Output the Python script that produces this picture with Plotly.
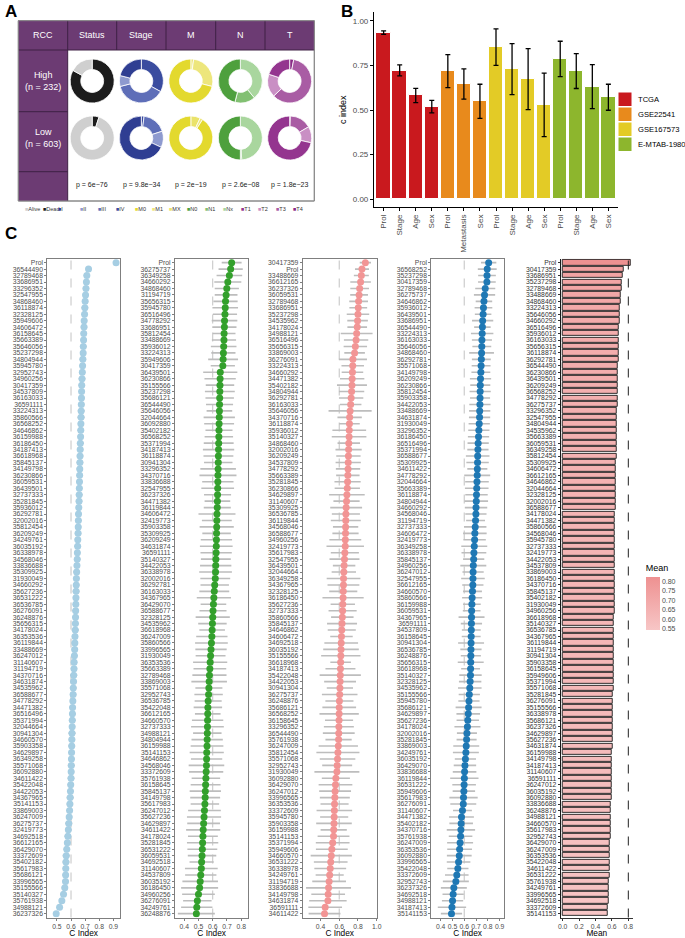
import plotly.graph_objects as go

W, H = 685, 938
def fx(p): return p / W
def fy(p): return 1 - p / H

FONT = "Liberation Sans"
GREYTXT = "#4D4D4D"

# ---------------- Panel A data ----------------
a_vars = ["Status", "Stage", "M", "N", "T"]
a_levels = [["Dead", "Alive"], ["IV", "III", "II", "I"], ["MX", "M1", "M0"],
            ["Nx", "N1", "N0"], ["T4", "T3", "T2", "T1"]]
a_high = [[0.83, 0.17], [0.33, 0.38, 0.08, 0.21], [0.02, 0.27, 0.71],
          [0.39, 0.15, 0.46], [0.03, 0.60, 0.17, 0.20]]
a_low = [[0.05, 0.95], [0.02, 0.18, 0.12, 0.68], [0.07, 0.02, 0.91],
         [0.49, 0.01, 0.50], [0.005, 0.16, 0.12, 0.715]]
a_pvals = ["p = 6e−76", "p = 9.8e−34", "p = 2e−19", "p = 2.6e−08", "p = 1.8e−23"]
a_groups = ["High<br>(n = 232)", "Low<br>(n = 603)"]
a_legend = ["Alive", "Dead", "I", "II", "III", "IV", "M0", "M1", "MX",
            "N0", "N1", "Nx", "T1", "T2", "T3", "T4"]
a_colors = {"Alive": "#CFCFCF", "Dead": "#1C1C1C",
            "I": "#2F3E92", "II": "#8E9ACF", "III": "#5E6EB8", "IV": "#3A4C9F",
            "M0": "#E3D92E", "M1": "#EDE67C", "MX": "#EAE36A",
            "N0": "#4EA03D", "N1": "#82C072", "Nx": "#A9D69E",
            "T1": "#94358F", "T2": "#C98FC4", "T3": "#A95CA4", "T4": "#8A2B86"}

# ---------------- Panel B data ----------------
b_cohorts = ["TCGA", "GSE22541", "GSE167573", "E-MTAB-1980"]
b_colors = ["#C9191E", "#E88A1C", "#E3CB26", "#8DB62D"]
b_vars = [["Prol", "Stage", "Age", "Sex"], ["Prol", "Metastasis", "Sex"],
          ["Prol", "Stage", "Age", "Sex"], ["Prol", "Stage", "Age", "Sex"]]
b_cidx = [[0.931, 0.721, 0.583, 0.520], [0.720, 0.645, 0.551],
          [0.854, 0.731, 0.675, 0.529], [0.787, 0.720, 0.630, 0.572]]
b_low = [[0.925, 0.692, 0.542, 0.484], [0.626, 0.561, 0.454],
         [0.751, 0.587, 0.503, 0.351], [0.688, 0.621, 0.508, 0.499]]
b_high = [[0.944, 0.753, 0.622, 0.555], [0.811, 0.731, 0.645],
          [0.955, 0.873, 0.845, 0.707], [0.886, 0.817, 0.755, 0.645]]

# ---------------- Panel C data ----------------
c1_labels = ["Prol","36544490","32789468","33686951","33296352","32547955","34868460","36118874","32328125","35949606",
"34606472","36158645","35663389","35646056","35237298","34804944","35945780","32952743","34960256","30417359",
"34537809","36163033","36591111","33224313","35860566","36568252","34646862","36159988","36186450","34187413",
"36618968","35845137","34149798","36230866","36059531","36439501","32737333","35281845","35936012","36292781",
"32002016","35812454","36209249","34249761","36035192","36338978","34568046","33836688","35309925","31930049",
"34660292","35627236","36531222","36536785","36276091","36248876","35656315","34178024","36353536","36119844",
"33488669","36247012","31140607","31194719","34370716","34631874","34535962","36588677","34778292","34471382",
"36516496","35371994","32044664","30941304","34660570","35903358","34629897","36349258","35571068","36092880",
"34611422","35422048","34422053","34367965","35141153","33869003","36247009","36275737","32419773","34692518",
"36612165","36429070","33372609","35402182","35617983","35686121","33996565","35155566","35140327","35761938",
"34988121","36237326"]
c1_vals = [0.919, 0.724, 0.712, 0.709, 0.706, 0.703, 0.700, 0.698, 0.696, 0.693,
0.692, 0.690, 0.689, 0.687, 0.686, 0.684, 0.682, 0.680, 0.678, 0.676,
0.675, 0.674, 0.673, 0.672, 0.671, 0.670, 0.669, 0.668, 0.666, 0.665,
0.664, 0.663, 0.662, 0.661, 0.660, 0.659, 0.658, 0.657, 0.655, 0.653,
0.652, 0.651, 0.650, 0.648, 0.647, 0.645, 0.644, 0.642, 0.640, 0.638,
0.637, 0.636, 0.635, 0.634, 0.633, 0.632, 0.631, 0.630, 0.628, 0.627,
0.626, 0.624, 0.622, 0.621, 0.619, 0.618, 0.616, 0.615, 0.613, 0.611,
0.610, 0.609, 0.608, 0.607, 0.606, 0.605, 0.604, 0.603, 0.602, 0.601,
0.600, 0.598, 0.596, 0.594, 0.592, 0.590, 0.587, 0.584, 0.581, 0.578,
0.574, 0.570, 0.566, 0.564, 0.563, 0.562, 0.561, 0.556, 0.547, 0.535,
0.519, 0.495]
c1_err = [0.004, 0.020, 0.022, 0.021, 0.023, 0.020, 0.022, 0.024, 0.021, 0.022,
0.023, 0.021, 0.022, 0.024, 0.021, 0.023, 0.022, 0.021, 0.024, 0.022,
0.021, 0.023, 0.022, 0.024, 0.025, 0.022, 0.023, 0.021, 0.024, 0.022,
0.023, 0.024, 0.022, 0.021, 0.023, 0.022, 0.024, 0.023, 0.021, 0.022,
0.024, 0.022, 0.023, 0.021, 0.024, 0.022, 0.023, 0.021, 0.024, 0.022,
0.023, 0.024, 0.022, 0.021, 0.023, 0.022, 0.024, 0.025, 0.022, 0.023,
0.021, 0.024, 0.022, 0.023, 0.025, 0.022, 0.024, 0.023, 0.021, 0.022,
0.023, 0.024, 0.022, 0.025, 0.023, 0.024, 0.022, 0.023, 0.025, 0.022,
0.024, 0.023, 0.022, 0.025, 0.023, 0.024, 0.022, 0.025, 0.023, 0.024,
0.022, 0.023, 0.025, 0.024, 0.022, 0.023, 0.024, 0.022, 0.023, 0.020,
0.018, 0.016]

c2_labels = ["Prol","36275737","36349258","34660292","34868460","31194719","35656315","35945780","36516496","34778292",
"33686951","35812454","33488669","35936012","33224313","35949606","30417359","36439501","36230866","35155566",
"35237298","35686121","36544490","35646056","32044664","36092880","35402182","36568252","35371994","34187413",
"36118874","30941304","33296352","34370716","33836688","32547955","36237326","34471382","36119844","34606472",
"32419773","35903358","35309925","36209249","34631874","36591111","35140327","34422053","36338978","32002016",
"36292781","36163033","34367965","36429070","36588677","32328125","34535962","36618968","36247009","35860566",
"33996565","31930049","36353536","35663389","32789468","33869003","35571068","32952743","36536785","35422048",
"36612165","34660570","32737333","34988121","34804944","36159988","35141153","34646862","34568046","33372609",
"35761938","36158645","35845137","34149798","35617983","36247012","35627236","34629897","34611422","34178024",
"35281845","36531222","36059531","34692518","31140607","34537809","36035192","36186450","34960256","36276091",
"34249761","36248876"]
c2_vals = [0.733, 0.726, 0.717, 0.706, 0.699, 0.694, 0.690, 0.688, 0.686, 0.683,
0.682, 0.680, 0.679, 0.677, 0.675, 0.673, 0.671, 0.653, 0.652, 0.651,
0.650, 0.649, 0.648, 0.647, 0.646, 0.645, 0.644, 0.643, 0.642, 0.641,
0.640, 0.639, 0.638, 0.637, 0.636, 0.635, 0.634, 0.633, 0.632, 0.630,
0.629, 0.628, 0.627, 0.626, 0.625, 0.624, 0.622, 0.621, 0.620, 0.618,
0.614, 0.611, 0.608, 0.605, 0.602, 0.600, 0.598, 0.596, 0.594, 0.591,
0.588, 0.585, 0.582, 0.580, 0.577, 0.575, 0.573, 0.571, 0.568, 0.566,
0.565, 0.564, 0.563, 0.562, 0.561, 0.560, 0.558, 0.557, 0.556, 0.554,
0.552, 0.550, 0.548, 0.547, 0.545, 0.542, 0.539, 0.536, 0.533, 0.531,
0.529, 0.527, 0.525, 0.522, 0.520, 0.516, 0.512, 0.508, 0.500, 0.492,
0.488, 0.485]
c2_err = [0.070, 0.085, 0.090, 0.095, 0.085, 0.080, 0.085, 0.090, 0.085, 0.090,
0.085, 0.080, 0.085, 0.090, 0.085, 0.105, 0.085, 0.120, 0.110, 0.100,
0.105, 0.100, 0.095, 0.090, 0.110, 0.105, 0.095, 0.100, 0.105, 0.110,
0.105, 0.100, 0.125, 0.130, 0.110, 0.115, 0.095, 0.090, 0.095, 0.130,
0.105, 0.120, 0.100, 0.110, 0.115, 0.110, 0.105, 0.110, 0.115, 0.105,
0.100, 0.105, 0.120, 0.090, 0.095, 0.120, 0.100, 0.090, 0.110, 0.115,
0.110, 0.105, 0.120, 0.115, 0.120, 0.125, 0.095, 0.100, 0.095, 0.100,
0.090, 0.110, 0.115, 0.100, 0.110, 0.115, 0.120, 0.110, 0.125, 0.120,
0.100, 0.105, 0.110, 0.105, 0.100, 0.115, 0.120, 0.115, 0.120, 0.105,
0.110, 0.105, 0.100, 0.085, 0.115, 0.110, 0.125, 0.130, 0.115, 0.100,
0.110, 0.130]

c3_labels = ["30417359","Prol","33488669","36612165","36237326","36059531","32789468","33686951","35237298","34535962",
"34178024","34988121","36516496","35656315","33869003","36276091","33224313","34660292","34471382","35402182",
"34804944","36292781","36163033","35646056","34370716","36118874","35936012","35140327","34868460","32002016",
"36209249","34537809","34778292","35663389","35281845","36230866","34629897","31140607","35309925","36536785",
"36119844","34568046","36588677","34960256","32419773","35617983","32547955","36439501","32044664","36349258",
"34367965","32328125","36186450","35627236","32737333","35860566","35845137","34646862","34606472","34692518",
"36035192","35155566","36618968","34187413","35422048","34422053","30941304","36275737","36248876","35686121",
"36568252","36158645","33296352","36544490","35761938","36247009","35812454","35571068","32952743","31930049",
"36092880","36429070","36247012","33996565","36353536","33372609","35945780","35903358","36159988","35141153",
"35371994","35949606","34660570","36531222","36338978","34249761","31194719","33836688","34149798","34631874",
"36591111","34611422"]
c3_vals = [0.879, 0.843, 0.836, 0.828, 0.818, 0.812, 0.807, 0.803, 0.800, 0.796,
0.792, 0.786, 0.780, 0.772, 0.764, 0.746, 0.744, 0.741, 0.738, 0.736,
0.732, 0.727, 0.722, 0.716, 0.711, 0.709, 0.707, 0.705, 0.702, 0.700,
0.698, 0.696, 0.694, 0.692, 0.689, 0.686, 0.682, 0.678, 0.674, 0.671,
0.670, 0.668, 0.667, 0.665, 0.664, 0.660, 0.656, 0.652, 0.649, 0.646,
0.645, 0.643, 0.641, 0.638, 0.636, 0.633, 0.630, 0.627, 0.624, 0.621,
0.619, 0.617, 0.615, 0.613, 0.611, 0.609, 0.607, 0.605, 0.602, 0.600,
0.599, 0.598, 0.596, 0.595, 0.593, 0.590, 0.586, 0.582, 0.578, 0.575,
0.564, 0.560, 0.556, 0.553, 0.550, 0.548, 0.546, 0.544, 0.541, 0.539,
0.530, 0.521, 0.515, 0.509, 0.504, 0.498, 0.492, 0.486, 0.482, 0.479,
0.450, 0.443]
c3_err = [0.060, 0.075, 0.080, 0.110, 0.100, 0.095, 0.100, 0.095, 0.120, 0.110,
0.105, 0.170, 0.130, 0.125, 0.110, 0.150, 0.120, 0.115, 0.130, 0.160,
0.135, 0.130, 0.115, 0.230, 0.130, 0.110, 0.180, 0.185, 0.120, 0.140,
0.130, 0.135, 0.130, 0.125, 0.140, 0.135, 0.190, 0.140, 0.170, 0.150,
0.160, 0.135, 0.140, 0.170, 0.200, 0.150, 0.160, 0.120, 0.130, 0.180,
0.170, 0.150, 0.220, 0.130, 0.150, 0.120, 0.160, 0.150, 0.120, 0.180,
0.190, 0.210, 0.110, 0.160, 0.220, 0.170, 0.140, 0.190, 0.150, 0.180,
0.210, 0.150, 0.160, 0.170, 0.140, 0.210, 0.230, 0.190, 0.160, 0.240,
0.150, 0.180, 0.170, 0.160, 0.150, 0.190, 0.150, 0.190, 0.140, 0.170,
0.180, 0.170, 0.220, 0.180, 0.170, 0.150, 0.180, 0.240, 0.180, 0.200,
0.180, 0.170]

c4_labels = ["Prol","36568252","35237298","30417359","32789468","36275737","34646862","35936012","36439501","33686951",
"36544490","33224313","36163033","35646056","34868460","36292781","35571068","34149798","36209249","36230866",
"35812454","35903358","34422053","33488669","34631874","31930049","33296352","36186450","36516496","35371994",
"36588677","35309925","34611422","34778292","32044664","35663389","36118874","34804944","34660292","34568046",
"31194719","32737333","34606472","32419773","36349258","36338978","35845137","34960256","36247012","32547955",
"36612165","34660570","35860566","36159988","36059531","34367965","36591111","34537809","36158645","30941304",
"36536785","36248876","35656315","36618968","35140327","32328125","34535962","35155566","35945780","35686121",
"34629897","35627236","34178024","32002016","35281845","33869003","34249761","36035192","36429070","33836688",
"36119844","36531222","35949606","35617983","36276091","31140607","34471382","35402182","34370716","35761938",
"36247009","36353536","36092880","33996565","35422048","33372609","32952743","36237326","34692518","34988121",
"34187413","35141153"]
c4_vals = [0.807, 0.795, 0.793, 0.792, 0.778, 0.772, 0.767, 0.763, 0.760, 0.756,
0.754, 0.752, 0.750, 0.749, 0.747, 0.745, 0.743, 0.741, 0.738, 0.736,
0.735, 0.734, 0.733, 0.731, 0.730, 0.727, 0.724, 0.721, 0.718, 0.716,
0.714, 0.713, 0.711, 0.710, 0.708, 0.706, 0.704, 0.702, 0.700, 0.699,
0.696, 0.693, 0.690, 0.688, 0.685, 0.682, 0.680, 0.677, 0.675, 0.674,
0.673, 0.670, 0.667, 0.665, 0.663, 0.662, 0.661, 0.660, 0.659, 0.658,
0.657, 0.656, 0.655, 0.654, 0.653, 0.650, 0.647, 0.643, 0.640, 0.637,
0.634, 0.630, 0.627, 0.623, 0.620, 0.617, 0.614, 0.610, 0.606, 0.603,
0.601, 0.599, 0.597, 0.594, 0.592, 0.585, 0.577, 0.574, 0.572, 0.569,
0.565, 0.561, 0.558, 0.552, 0.546, 0.537, 0.529, 0.512, 0.506, 0.501,
0.496, 0.492]
c4_err = [0.065, 0.080, 0.075, 0.075, 0.085, 0.090, 0.070, 0.075, 0.070, 0.090,
0.070, 0.095, 0.085, 0.080, 0.105, 0.080, 0.080, 0.080, 0.090, 0.085,
0.090, 0.085, 0.090, 0.090, 0.090, 0.090, 0.090, 0.090, 0.090, 0.090,
0.100, 0.095, 0.085, 0.110, 0.100, 0.100, 0.095, 0.100, 0.095, 0.090,
0.080, 0.095, 0.100, 0.095, 0.110, 0.105, 0.090, 0.110, 0.090, 0.100,
0.090, 0.080, 0.085, 0.075, 0.075, 0.110, 0.090, 0.080, 0.080, 0.110,
0.090, 0.085, 0.110, 0.080, 0.095, 0.095, 0.100, 0.090, 0.090, 0.110,
0.100, 0.095, 0.110, 0.085, 0.085, 0.110, 0.110, 0.090, 0.095, 0.100,
0.120, 0.100, 0.095, 0.120, 0.110, 0.080, 0.105, 0.100, 0.120, 0.100,
0.110, 0.105, 0.105, 0.100, 0.090, 0.100, 0.110, 0.110, 0.090, 0.090,
0.120, 0.090]

c5_labels = ["Prol","30417359","33686951","35237298","32789468","33488669","34868460","33224313","35646056","34660292",
"36516496","35936012","36163033","35656315","36118874","36292781","36544490","36230866","36439501","36209249",
"36568252","34778292","36275737","33296352","32547955","34804944","34535962","35663389","36059531","36349258",
"35812454","35309925","34606472","36612165","34646862","32044664","32328125","32002016","36588677","34178024",
"34471382","35860566","34568046","35945780","32737333","32419773","34422053","34537809","33869003","36186450",
"34370716","35845137","35402182","31930049","34960256","36618968","35140327","36536785","34367965","36119844",
"31194719","30941304","35903358","36158645","35949606","35371994","35571068","35281845","36276091","35155566",
"36338978","35686121","36237326","34629897","35627236","34631874","36159988","34149798","34187413","31140607",
"36591111","36247012","36035192","36092880","33836688","36248876","34988121","34660570","35617983","32952743",
"36429070","36247009","36353536","35422048","34611422","36531222","35761938","34249761","33996565","34692518",
"33372609","35141153"]
c5_mean = [0.826, 0.745, 0.730, 0.722, 0.715, 0.709, 0.704, 0.700, 0.695, 0.690,
0.688, 0.686, 0.684, 0.682, 0.680, 0.678, 0.676, 0.674, 0.672, 0.670,
0.668, 0.666, 0.665, 0.663, 0.662, 0.661, 0.660, 0.658, 0.657, 0.655,
0.654, 0.652, 0.651, 0.650, 0.648, 0.647, 0.645, 0.644, 0.642, 0.640,
0.639, 0.638, 0.637, 0.636, 0.636, 0.635, 0.634, 0.634, 0.633, 0.633,
0.630, 0.629, 0.629, 0.628, 0.628, 0.627, 0.627, 0.626, 0.626, 0.625,
0.624, 0.623, 0.622, 0.621, 0.620, 0.618, 0.617, 0.615, 0.613, 0.610,
0.609, 0.608, 0.607, 0.606, 0.605, 0.604, 0.603, 0.602, 0.601, 0.600,
0.598, 0.596, 0.594, 0.592, 0.590, 0.588, 0.586, 0.584, 0.582, 0.580,
0.578, 0.576, 0.574, 0.572, 0.570, 0.568, 0.566, 0.564, 0.562, 0.560,
0.553, 0.547]

c_panels = [
    dict(labels=c1_labels, vals=c1_vals, err=c1_err, color="#A6CEE3"),
    dict(labels=c2_labels, vals=c2_vals, err=c2_err, color="#33A02C"),
    dict(labels=c3_labels, vals=c3_vals, err=c3_err, color="#F29595"),
    dict(labels=c4_labels, vals=c4_vals, err=c4_err, color="#1F78B4"),
]
# layout for panel C (pixel domains, axis ranges, ticks)
c_xdom = [(47.3, 120.0), (175.0, 248.3), (302.7, 376.7), (431.3, 504.0)]
c_xrng = [(0.432, 0.947), (0.335, 0.850), (0.21, 1.0), (0.321, 0.937)]
c_ticks = [[0.5, 0.6, 0.7, 0.8, 0.9], [0.4, 0.5, 0.6, 0.7, 0.8],
           [0.4, 0.6, 0.8, 1.0], [0.4, 0.5, 0.6, 0.7, 0.8, 0.9]]
C_TOP, C_BOT = 258.8, 917.5

fig = go.Figure()

# ---------------- Panel A: donuts ----------------
col_edges = [18.3, 67.7, 116.7, 166.0, 215.7, 265.0, 314.3]
row_edges = [20.7, 50.0, 111.7, 171.7, 201.0]
donut_cy = [81.0, 138.0]
R = 22
for i, var in enumerate(a_vars):
    cx = (col_edges[i + 1] + col_edges[i + 2]) / 2
    for vals, cy in zip((a_high[i], a_low[i]), donut_cy):
        fig.add_trace(go.Pie(
            labels=a_levels[i], values=vals, sort=False, direction="clockwise",
            hole=0.52, textinfo="none", hoverinfo="label+percent",
            marker=dict(colors=[a_colors[l] for l in a_levels[i]],
                        line=dict(color="white", width=0.8)),
            domain=dict(x=[fx(cx - R), fx(cx + R)], y=[fy(cy + R), fy(cy - R)]),
            showlegend=False))

# ---------------- Panel B: bars ----------------
pos = 0
b_ticktext = []
for k, coh in enumerate(b_cohorts):
    n = len(b_vars[k])
    xs = list(range(pos, pos + n))
    pos += n
    b_ticktext += b_vars[k]
    fig.add_trace(go.Bar(
        x=xs, y=b_cidx[k], name=coh, width=0.9,
        marker=dict(color=b_colors[k], line=dict(color="white", width=1)),
        error_y=dict(type="data", symmetric=False,
                     array=[h - c for h, c in zip(b_high[k], b_cidx[k])],
                     arrayminus=[c - l for c, l in zip(b_cidx[k], b_low[k])],
                     color="black", thickness=1.3, width=2.5),
        xaxis="x", yaxis="y", showlegend=False))

# ---------------- Panel C: forest dot panels ----------------
for j, p in enumerate(c_panels):
    ax = str(j + 2)
    fig.add_trace(go.Scatter(
        x=p["vals"], y=p["labels"], mode="markers",
        marker=dict(color=p["color"], size=7, line=dict(width=0)),
        error_x=dict(type="data", array=p["err"], color="#BDBDBD", thickness=1.6, width=0),
        xaxis="x" + ax, yaxis="y" + ax, showlegend=False))

fig.add_trace(go.Bar(
    x=c5_mean, y=c5_labels, orientation="h", width=0.82,
    marker=dict(color=c5_mean, colorscale=[[0, "#F7C6C6"], [1, "#EE9191"]],
                cmin=min(c5_mean), cmax=max(c5_mean),
                line=dict(color="#1A1A1A", width=0.9),
                showscale=True,
                colorbar=dict(title=dict(text="Mean", side="top", font=dict(size=9, family=FONT)),
                              x=fx(645.7), xanchor="left", y=fy(595.5), yanchor="middle",
                              len=67.5, lenmode="pixels", thickness=14, thicknessmode="pixels",
                              xpad=0, ypad=0, outlinewidth=0, ticks="",
                              tickvals=[0.55, 0.60, 0.65, 0.70, 0.75, 0.80], tickformat=".2f",
                              tickfont=dict(size=7, color=GREYTXT, family=FONT))),
    xaxis="x6", yaxis="y6", showlegend=False))

# ---------------- Layout ----------------
layout = dict(
    width=W, height=H, margin=dict(l=0, r=0, t=0, b=0, autoexpand=False), autosize=False,
    paper_bgcolor="white", plot_bgcolor="white",
    font=dict(family=FONT, color="black"),
    bargap=0, showlegend=False,
    xaxis=dict(domain=[fx(374), fx(618)], anchor="y", range=[-0.6, 14.6], automargin=False,
               tickmode="array", tickvals=list(range(len(b_ticktext))), ticktext=b_ticktext,
               tickangle=-90, tickfont=dict(size=8, color=GREYTXT),
               showline=True, linecolor="black", linewidth=1.2, ticks="outside",
               ticklen=3, tickcolor="black", showgrid=False, zeroline=False),
    yaxis=dict(domain=[fy(207.3), fy(12)], anchor="x", range=[-0.045, 1.05], automargin=False,
               tickvals=[0, 0.25, 0.5, 0.75, 1.0], tickformat=".2f",
               tickfont=dict(size=8, color=GREYTXT),
               showline=True, linecolor="black", linewidth=1.2, ticks="outside",
               ticklen=3, tickcolor="black", showgrid=False, zeroline=False,
               title=dict(text="c index", font=dict(size=9), standoff=4)),
)

for j, p in enumerate(c_panels):
    ax = str(j + 2)
    layout["xaxis" + ax] = dict(
        domain=[fx(c_xdom[j][0]), fx(c_xdom[j][1])], anchor="y" + ax, automargin=False,
        range=list(c_xrng[j]), tickmode="array", tickvals=c_ticks[j], tickformat=".1f",
        tickfont=dict(size=6.8, color=GREYTXT), showline=True, mirror=True,
        linecolor="#7F7F7F", linewidth=1, ticks="outside", ticklen=2, tickcolor="#7F7F7F",
        showgrid=False, zeroline=False,
        title=dict(text="C Index", font=dict(size=8.3), standoff=0))
    layout["yaxis" + ax] = dict(
        domain=[fy(C_BOT), fy(C_TOP)], anchor="x" + ax, type="category", automargin=False,
        categoryorder="array", categoryarray=p["labels"],
        range=[len(p["labels"]) - 0.4, -0.6],
        tickmode="array", tickvals=p["labels"], ticktext=p["labels"],
        tickfont=dict(size=6.8, color=GREYTXT), showline=True, mirror=True,
        linecolor="#7F7F7F", linewidth=1, ticks="outside", ticklen=2, tickcolor="#7F7F7F",
        showgrid=False, zeroline=False)

layout["xaxis6"] = dict(
    domain=[fx(560.7), fx(633)], anchor="y6", range=[-0.024, 0.857], automargin=False,
    tickmode="array", tickvals=[0, 0.2, 0.4, 0.6, 0.8], tickformat=".1f",
    tickfont=dict(size=6.8, color=GREYTXT), showline=True, linecolor="#333333", linewidth=1,
    ticks="outside", ticklen=2, tickcolor="#333333", showgrid=False, zeroline=False,
    title=dict(text="Mean", font=dict(size=8.3), standoff=0))
layout["yaxis6"] = dict(
    domain=[fy(C_BOT), fy(C_TOP)], anchor="x6", type="category", automargin=False,
    categoryorder="array", categoryarray=c5_labels,
    range=[len(c5_labels) - 0.4, -0.6],
    tickmode="array", tickvals=c5_labels, ticktext=c5_labels,
    tickfont=dict(size=6.8, color="#333333"), showline=True, linecolor="#1A1A1A", linewidth=1.2,
    ticks="outside", ticklen=2, tickcolor="#333333", showgrid=False, zeroline=False)

# shapes
PURPLE = "#6C3B73"
DARKLINE = "#3E2044"
shapes = []
shapes.append(dict(type="rect", xref="paper", yref="paper", x0=fx(col_edges[0]), x1=fx(col_edges[-1]),
                   y0=fy(row_edges[-1]), y1=fy(row_edges[0]), fillcolor="white",
                   line=dict(color="#8A8A8A", width=1), layer="below"))
shapes.append(dict(type="rect", xref="paper", yref="paper", x0=fx(col_edges[0]), x1=fx(col_edges[-1]),
                   y0=fy(row_edges[1]), y1=fy(row_edges[0]), fillcolor=PURPLE, line=dict(width=0), layer="below"))
shapes.append(dict(type="rect", xref="paper", yref="paper", x0=fx(col_edges[0]), x1=fx(col_edges[1]),
                   y0=fy(row_edges[-1]), y1=fy(row_edges[0]), fillcolor=PURPLE, line=dict(width=0), layer="below"))
for xe in col_edges[1:-1]:
    shapes.append(dict(type="line", xref="paper", yref="paper", x0=fx(xe), x1=fx(xe),
                       y0=fy(row_edges[1]), y1=fy(row_edges[0]), line=dict(color=DARKLINE, width=1)))
shapes.append(dict(type="line", xref="paper", yref="paper", x0=fx(col_edges[0]), x1=fx(col_edges[-1]),
                   y0=fy(row_edges[1]), y1=fy(row_edges[1]), line=dict(color=DARKLINE, width=1)))
for ye in row_edges[2:4]:
    shapes.append(dict(type="line", xref="paper", yref="paper", x0=fx(col_edges[0]), x1=fx(col_edges[1]),
                       y0=fy(ye), y1=fy(ye), line=dict(color=DARKLINE, width=1)))
shapes.append(dict(type="line", xref="paper", yref="paper", x0=fx(col_edges[1]), x1=fx(col_edges[1]),
                   y0=fy(row_edges[-1]), y1=fy(row_edges[1]), line=dict(color=DARKLINE, width=1)))
shapes.append(dict(type="rect", xref="paper", yref="paper", x0=fx(col_edges[0]), x1=fx(col_edges[-1]),
                   y0=fy(row_edges[-1]), y1=fy(row_edges[0]), fillcolor="rgba(0,0,0,0)",
                   line=dict(color="#8A8A8A", width=1)))
# reference lines in panel C
for j in range(4):
    ax = str(j + 2)
    shapes.append(dict(type="line", xref="x" + ax, yref="y" + ax + " domain", x0=0.6, x1=0.6, y0=0, y1=1,
                       line=dict(color="#BBBBBB", width=0.9, dash="dash"), layer="below"))
shapes.append(dict(type="line", xref="x6", yref="y6 domain", x0=0.8, x1=0.8, y0=0, y1=1,
                   line=dict(color="#222222", width=1, dash="dash"), layer="above"))
# legend keys for panel B (drawn manually to match ggplot keys)
LEG_Y0 = 92.0
for k, coh in enumerate(b_cohorts):
    top = LEG_Y0 + 15 * k
    shapes.append(dict(type="rect", xref="paper", yref="paper", x0=fx(618), x1=fx(632),
                       y0=fy(top + 14.5), y1=fy(top), fillcolor=b_colors[k],
                       line=dict(color="white", width=1)))
layout["shapes"] = shapes

# annotations
def note(text, xp, yp, size, color="black", xanchor="center"):
    return dict(text=text, x=fx(xp), y=fy(yp), xref="paper", yref="paper",
                xanchor=xanchor, yanchor="middle", showarrow=False,
                font=dict(size=size, color=color))

ann = []
for k, coh in enumerate(b_cohorts):
    ann.append(note(coh, 635.5, LEG_Y0 + 15 * k + 7.2, 7.6, xanchor="left"))
for lbl, xp, yp in (("A", 3, 12), ("B", 339, 12), ("C", 3, 234)):
    ann.append(note("<b>%s</b>" % lbl, xp, yp, 17, xanchor="left"))
headers = ["RCC"] + a_vars
for i, h in enumerate(headers):
    ann.append(note(h, (col_edges[i] + col_edges[i + 1]) / 2, (row_edges[0] + row_edges[1]) / 2, 9, "white"))
for g, cy in zip(a_groups, donut_cy):
    ann.append(note(g, (col_edges[0] + col_edges[1]) / 2, cy, 9, "white"))
for i, pv in enumerate(a_pvals):
    ann.append(note(pv, (col_edges[i + 1] + col_edges[i + 2]) / 2, 185, 7, "#222222"))
legend_x = [22.5, 40.5, 55.5, 77.5, 95.5, 113.5, 132.5, 149.5, 167.0, 185.0,
            202.5, 221.0, 238.5, 256.0, 273.5, 291.0]
for lvl, lx in zip(a_legend, legend_x):
    ann.append(note('<span style="color:%s">■</span>%s' % (a_colors[lvl], lvl), lx, 209, 5.5,
                    "#333333", xanchor="left"))
layout["annotations"] = ann

fig.update_layout(**layout)
fig.write_html("out.html", config={"displayModeBar": False},
               post_script="document.body.style.margin='0px';document.body.style.padding='0px';"
                           "document.body.style.overflow='hidden';")
